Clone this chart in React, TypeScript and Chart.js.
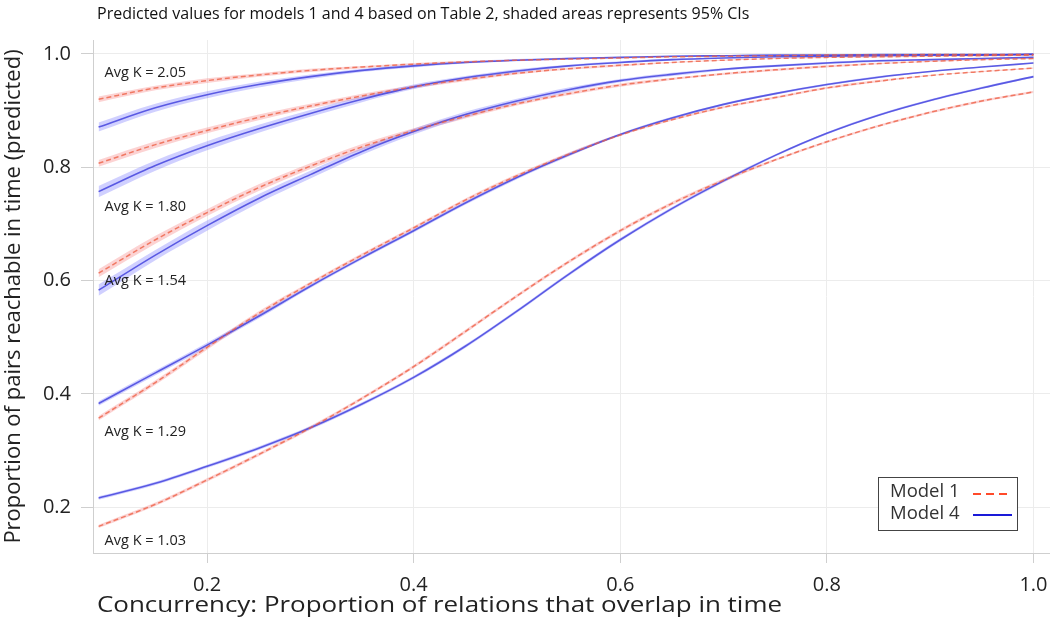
import React, { useEffect, useRef } from "react";
import { Chart, registerables } from "chart.js";
Chart.register(...registerables);

// ---------- data ----------
const concurrency = [0.095, 0.15, 0.2, 0.25, 0.3, 0.35, 0.4, 0.45, 0.5, 0.55, 0.6, 0.65, 0.7, 0.75, 0.8, 0.85, 0.9, 0.95, 1.0];

const groupNames = ["Avg K = 2.05", "Avg K = 1.80", "Avg K = 1.54", "Avg K = 1.29", "Avg K = 1.03"];
const groupLabelY = [0.966, 0.730, 0.599, 0.333, 0.140];

const model1K205 = [0.920, 0.940, 0.953, 0.963, 0.971, 0.977, 0.982, 0.986, 0.989, 0.991, 0.993, 0.995, 0.996, 0.997, 0.998, 0.998, 0.999, 0.999, 0.999];
const model4K205 = [0.871, 0.905, 0.928, 0.946, 0.960, 0.971, 0.979, 0.985, 0.989, 0.992, 0.994, 0.996, 0.997, 0.998, 0.998, 0.999, 0.999, 0.999, 1.0];
const model1K180 = [0.807, 0.840, 0.865, 0.888, 0.908, 0.926, 0.942, 0.955, 0.966, 0.974, 0.980, 0.985, 0.989, 0.992, 0.994, 0.995, 0.996, 0.997, 0.998];
const model4K180 = [0.757, 0.803, 0.838, 0.868, 0.895, 0.920, 0.942, 0.958, 0.970, 0.979, 0.985, 0.990, 0.993, 0.995, 0.996, 0.997, 0.998, 0.998, 0.999];
const model1K154 = [0.613, 0.672, 0.720, 0.764, 0.802, 0.836, 0.865, 0.890, 0.912, 0.930, 0.945, 0.956, 0.965, 0.972, 0.978, 0.983, 0.987, 0.990, 0.992];
const model4K154 = [0.583, 0.645, 0.697, 0.745, 0.787, 0.828, 0.863, 0.893, 0.917, 0.937, 0.953, 0.964, 0.973, 0.979, 0.984, 0.988, 0.990, 0.992, 0.994];
const model1K129 = [0.357, 0.420, 0.482, 0.542, 0.595, 0.645, 0.693, 0.742, 0.785, 0.823, 0.857, 0.884, 0.906, 0.923, 0.940, 0.952, 0.962, 0.969, 0.975];
const model4K129 = [0.383, 0.437, 0.486, 0.537, 0.590, 0.640, 0.688, 0.737, 0.782, 0.822, 0.858, 0.887, 0.911, 0.930, 0.946, 0.959, 0.969, 0.977, 0.984];
const model1K103 = [0.166, 0.205, 0.248, 0.293, 0.340, 0.392, 0.448, 0.510, 0.573, 0.633, 0.688, 0.736, 0.777, 0.813, 0.845, 0.873, 0.897, 0.917, 0.933];
const model4K103 = [0.216, 0.242, 0.272, 0.304, 0.340, 0.382, 0.429, 0.484, 0.546, 0.611, 0.672, 0.727, 0.776, 0.821, 0.860, 0.892, 0.918, 0.940, 0.960];

// 95% CI half-widths
const ci1K205 = [0.005, 0.004, 0.004, 0.003, 0.003, 0.002, 0.002, 0.002, 0.001, 0.001, 0.001, 0.001, 0.001, 0.001, 0.001, 0.001, 0.001, 0.001, 0.001];
const ci4K205 = [0.008, 0.007, 0.006, 0.005, 0.004, 0.003, 0.003, 0.002, 0.002, 0.002, 0.001, 0.001, 0.001, 0.001, 0.001, 0.001, 0.001, 0.001, 0.001];
const ci1K180 = [0.006, 0.006, 0.005, 0.005, 0.004, 0.004, 0.003, 0.003, 0.002, 0.002, 0.002, 0.001, 0.001, 0.001, 0.001, 0.001, 0.001, 0.001, 0.001];
const ci4K180 = [0.010, 0.009, 0.008, 0.007, 0.006, 0.005, 0.004, 0.003, 0.003, 0.002, 0.002, 0.002, 0.001, 0.001, 0.001, 0.001, 0.001, 0.001, 0.001];
const ci1K154 = [0.007, 0.007, 0.006, 0.006, 0.005, 0.005, 0.004, 0.004, 0.003, 0.003, 0.003, 0.002, 0.002, 0.002, 0.002, 0.001, 0.001, 0.001, 0.001];
const ci4K154 = [0.010, 0.009, 0.009, 0.008, 0.007, 0.006, 0.005, 0.005, 0.004, 0.004, 0.003, 0.003, 0.002, 0.002, 0.002, 0.002, 0.001, 0.001, 0.001];
const ci1K129 = [0.004, 0.004, 0.004, 0.004, 0.003, 0.003, 0.003, 0.003, 0.003, 0.003, 0.002, 0.002, 0.002, 0.002, 0.002, 0.002, 0.001, 0.001, 0.001];
const ci4K129 = [0.004, 0.004, 0.004, 0.004, 0.003, 0.003, 0.003, 0.003, 0.003, 0.003, 0.002, 0.002, 0.002, 0.002, 0.002, 0.002, 0.001, 0.001, 0.001];
const ci1K103 = [0.003, 0.003, 0.003, 0.003, 0.003, 0.003, 0.003, 0.003, 0.003, 0.003, 0.003, 0.003, 0.003, 0.002, 0.002, 0.002, 0.002, 0.002, 0.002];
const ci4K103 = [0.003, 0.003, 0.003, 0.003, 0.003, 0.003, 0.003, 0.003, 0.003, 0.003, 0.003, 0.003, 0.003, 0.002, 0.002, 0.002, 0.002, 0.002, 0.002];

const model1Series = [model1K205, model1K180, model1K154, model1K129, model1K103];
const model4Series = [model4K205, model4K180, model4K154, model4K129, model4K103];
const model1CI = [ci1K205, ci1K180, ci1K154, ci1K129, ci1K103];
const model4CI = [ci4K205, ci4K180, ci4K154, ci4K129, ci4K103];

const legendNames = ["Model 1", "Model 4"];
const xTicks = [0.2, 0.4, 0.6, 0.8, 1.0];
const yTicks = [0.2, 0.4, 0.6, 0.8, 1.0];

const titleText = "Predicted values for models 1 and 4 based on Table 2, shaded areas represents 95% CIs";
const xTitle = "Concurrency: Proportion of relations that overlap in time";
const yTitle = "Proportion of pairs reachable in time (predicted)";

// ---------- styles ----------
const FONT = "'Open Sans', 'Noto Sans', sans-serif";
const RED = "rgba(238, 98, 70, 0.8)";
const BLUE = "rgba(60, 60, 220, 0.8)";
const RED_BAND = "rgba(245, 130, 130, 0.35)";
const BLUE_BAND = "rgba(120, 120, 255, 0.35)";
const LEGEND_RED = "#ff4a2a";
const LEGEND_BLUE = "#1a1ad8";
const X_TITLE_WIDTH = 685;

function pts(vals: number[]) {
  return vals.map((v, i) => ({ x: concurrency[i], y: v }));
}

const overlayPlugin = {
  id: "overlay",
  afterDraw(chart: any) {
    const { ctx, chartArea, scales } = chart;
    const xs = scales.x;
    const ys = scales.y;
    ctx.save();
    // title
    ctx.fillStyle = "#111";
    ctx.font = `16px ${FONT}`;
    ctx.textAlign = "left";
    ctx.textBaseline = "middle";
    ctx.fillText(titleText, chartArea.left + 4, 14);
    // x-axis title (horizontally widened like the reference)
    ctx.font = `22px ${FONT}`;
    ctx.fillStyle = "#222";
    const w = ctx.measureText(xTitle).width;
    const sx = X_TITLE_WIDTH / w;
    ctx.save();
    ctx.translate(chartArea.left + 4, 606);
    ctx.scale(sx, 1);
    ctx.fillText(xTitle, 0, 0);
    ctx.restore();
    // group labels
    ctx.font = `14.5px ${FONT}`;
    ctx.fillStyle = "#222";
    groupNames.forEach((name, i) => {
      ctx.fillText(name, xs.getPixelForValue(concurrency[0]) + 6, ys.getPixelForValue(groupLabelY[i]));
    });
    // legend
    const bw = 139, bh = 53;
    const bx = chartArea.right - 33 - bw;
    const by = chartArea.bottom - 23 - bh;
    ctx.fillStyle = "#fff";
    ctx.fillRect(bx, by, bw, bh);
    ctx.strokeStyle = "#444";
    ctx.lineWidth = 1;
    ctx.strokeRect(bx + 0.5, by + 0.5, bw, bh);
    ctx.fillStyle = "#333";
    ctx.font = `18.5px ${FONT}`;
    ctx.textBaseline = "middle";
    const rows = [by + 15, by + 37];
    legendNames.forEach((n, i) => ctx.fillText(n, bx + 12, rows[i]));
    ctx.lineWidth = 2;
    ctx.strokeStyle = LEGEND_RED;
    ctx.setLineDash([8, 5]);
    ctx.beginPath();
    ctx.moveTo(bx + 95, rows[0] + 2);
    ctx.lineTo(bx + 134, rows[0] + 2);
    ctx.stroke();
    ctx.setLineDash([]);
    ctx.strokeStyle = LEGEND_BLUE;
    ctx.beginPath();
    ctx.moveTo(bx + 95, rows[1] + 1);
    ctx.lineTo(bx + 134, rows[1] + 1);
    ctx.stroke();
    ctx.restore();
  },
};

export default function App() {
  const ref = useRef<HTMLCanvasElement | null>(null);
  useEffect(() => {
    if (!ref.current) return;
    const datasets: any[] = [];
    const addBand = (vals: number[], ci: number[], color: string) => {
      const lowIdx = datasets.length;
      datasets.push({
        data: pts(vals.map((v, i) => v - ci[i])),
        borderWidth: 0, pointRadius: 0, fill: false, order: 3,
        borderColor: "transparent", cubicInterpolationMode: "monotone",
      });
      datasets.push({
        data: pts(vals.map((v, i) => v + ci[i])),
        borderWidth: 0, pointRadius: 0, fill: lowIdx, order: 3,
        borderColor: "transparent", backgroundColor: color, cubicInterpolationMode: "monotone",
      });
    };
    for (let g = 0; g < groupNames.length; g++) {
      addBand(model4Series[g], model4CI[g], BLUE_BAND);
      addBand(model1Series[g], model1CI[g], RED_BAND);
    }
    for (let g = 0; g < groupNames.length; g++) {
      datasets.push({
        label: legendNames[1],
        data: pts(model4Series[g]),
        borderColor: BLUE, borderWidth: 1.6, pointRadius: 0, fill: false, order: 2,
        cubicInterpolationMode: "monotone",
      });
      datasets.push({
        label: legendNames[0],
        data: pts(model1Series[g]),
        borderColor: RED, borderWidth: 1.5, borderDash: [5, 3], pointRadius: 0, fill: false, order: 1,
        cubicInterpolationMode: "monotone",
      });
    }
    const chart = new Chart(ref.current, {
      type: "line",
      data: { datasets },
      plugins: [overlayPlugin],
      options: {
        animation: false,
        responsive: false,
        layout: { padding: { top: 40, right: 0, bottom: 0, left: 0 } },
        plugins: { legend: { display: false }, tooltip: { enabled: false }, title: { display: false } },
        scales: {
          x: {
            type: "linear",
            min: 0.0896,
            max: 1.016,
            afterFit: (s: any) => { s.height = 82; s.paddingLeft = 0; s.paddingRight = 0; },
            afterBuildTicks: (s: any) => { s.ticks = xTicks.map((v) => ({ value: v })); },
            ticks: {
              font: { family: FONT, size: 20 },
              color: "#222",
              padding: 10,
              maxRotation: 0,
              callback: (v: any) => Number(v).toFixed(1),
            },
            grid: { color: "#ececec", tickLength: 10, tickColor: "#cfcfcf" },
            border: { color: "#cfcfcf" },
          },
          y: {
            type: "linear",
            min: 0.119,
            max: 1.0247,
            afterFit: (s: any) => { s.width = 93; s.paddingTop = 0; s.paddingBottom = 0; },
            afterBuildTicks: (s: any) => { s.ticks = yTicks.map((v) => ({ value: v })); },
            ticks: {
              font: { family: FONT, size: 20 },
              color: "#222",
              padding: 10,
              callback: (v: any) => Number(v).toFixed(1),
            },
            grid: { color: "#ececec", tickLength: 12, tickColor: "#cfcfcf" },
            border: { color: "#cfcfcf" },
            title: {
              display: true,
              text: yTitle,
              font: { family: FONT, size: 22 },
              color: "#222",
              padding: { top: 1, bottom: 0 },
            },
          },
        },
      },
    } as any);
    return () => chart.destroy();
  }, []);
  return (
    <div style={{ position: "fixed", left: 0, top: 0, width: 1050, height: 635, background: "#fff" }}>
      <canvas ref={ref} width={1050} height={635} />
    </div>
  );
}
